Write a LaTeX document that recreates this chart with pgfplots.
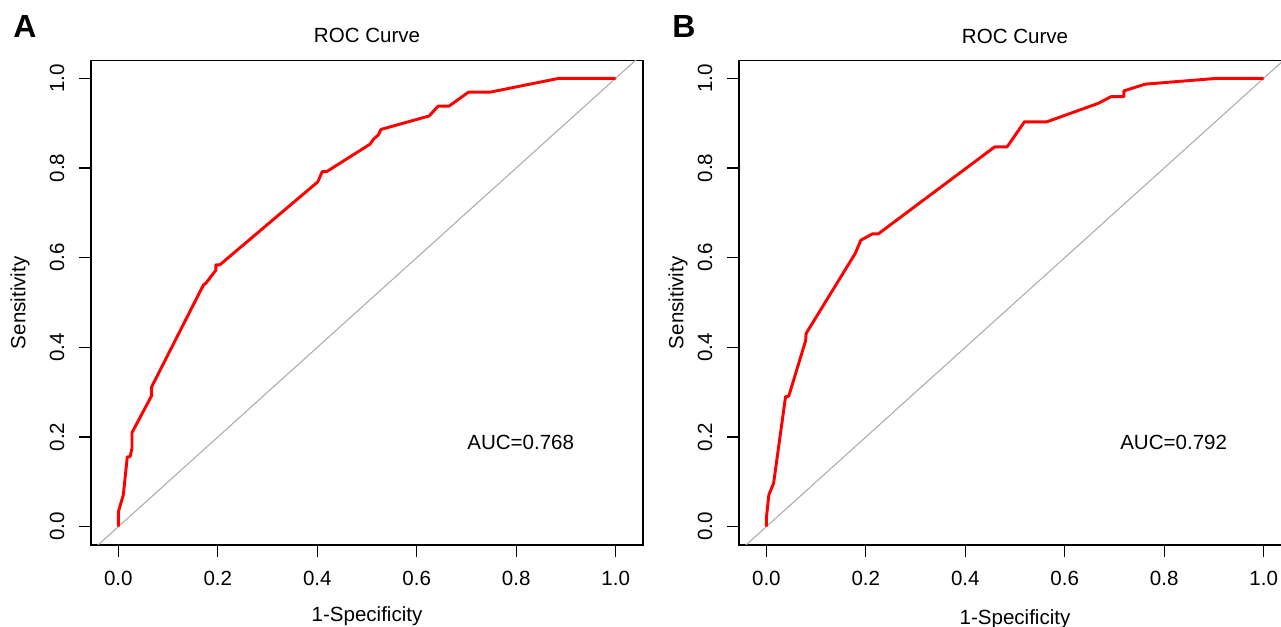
\documentclass[border=0pt]{standalone}
\usepackage{fontspec}
\setmainfont{Liberation Sans}
\usepackage{pgfplots}
\usepackage{pgfplotstable}
\pgfplotsset{compat=1.18}
\definecolor{diaggray}{RGB}{172,172,172}

\pgfplotstableread{
x y
0 0
0 0.033
0.010 0.071
0.018 0.156
0.0235 0.156
0.0275 0.175
0.0275 0.210
0.064 0.286
0.067 0.292
0.067 0.312
0.171 0.539
0.176 0.543
0.196 0.572
0.196 0.584
0.204 0.584
0.401 0.769
0.410 0.792
0.419 0.792
0.506 0.853
0.513 0.864
0.523 0.874
0.528 0.886
0.625 0.916
0.643 0.938
0.665 0.938
0.704 0.969
0.747 0.969
0.886 1.0
1.0 1.0
}\rocA

\pgfplotstableread{
x y
0 0
0 0.019
0.005 0.071
0.0146 0.097
0.0386 0.290
0.045 0.291
0.079 0.415
0.080 0.431
0.179 0.610
0.190 0.639
0.213 0.653
0.225 0.653
0.459 0.847
0.484 0.847
0.519 0.903
0.564 0.903
0.667 0.944
0.693 0.959
0.719 0.959
0.719 0.972
0.762 0.987
0.907 1.0
1.0 1.0
}\rocB

\pgfplotsset{
  rocaxis/.style={
    scale only axis,
    width=414pt, height=363.225pt,
    xmin=-0.055, xmax=1.055, ymin=-0.0408, ymax=1.0393,
    xtick={0,0.2,0.4,0.6,0.8,1.0},
    xticklabels={0.0,0.2,0.4,0.6,0.8,1.0},
    ytick={0,0.2,0.4,0.6,0.8,1.0},
    yticklabels={0.0,0.2,0.4,0.6,0.8,1.0},
    tick align=outside,
    xtick pos=left, ytick pos=left,
    major tick length=9pt,
    tick style={black, line width=0.9pt},
    axis line style={black, line width=1pt},
    font=\fontsize{15.4}{18}\selectfont,
    xticklabel style={anchor=center, yshift=-15.75pt},
    yticklabel style={anchor=center, xshift=-16.5pt, rotate=90},
    title={ROC Curve},
    title style={at={(axis description cs:0.5,1.0366)}, anchor=center},
    xlabel={1-Specificity},
    xlabel style={at={(axis description cs:0.5,-0.1466)}, anchor=center},
    ylabel={Sensitivity},
    ylabel style={at={(axis description cs:-0.1286,0.5)}, anchor=center},
    clip=true,
  },
  diag/.style={diaggray, line width=0.8pt},
  roc/.style={red, line width=2.2pt, line join=round},
}

\begin{document}
\begin{tikzpicture}[x=0.75pt,y=0.75pt]
\path[use as bounding box] (0,0) rectangle (1281,627);
\clip (0,0) rectangle (1281,627);

\node[font=\fontsize{24}{28}\selectfont\bfseries] at (25,600) {A};
\node[font=\fontsize{24}{28}\selectfont\bfseries] at (684,600) {B};

\begin{axis}[rocaxis, at={(68.25pt,61.5pt)}, anchor=south west]
  \addplot[diag] coordinates {(-0.2,-0.2) (1.2,1.2)};
  \addplot[roc] table[x=x,y=y] {\rocA};
  \node[anchor=center] at (axis cs:0.809,0.189) {AUC=0.768};
\end{axis}

\begin{axis}[rocaxis, at={(554.25pt,61.5pt)}, anchor=south west,
  title style={at={(axis description cs:0.5,1.0345)}},
  xlabel style={at={(axis description cs:0.5,-0.1528)}},
  ylabel style={at={(axis description cs:-0.1105,0.5)}}]
  \addplot[diag] coordinates {(-0.2,-0.2) (1.2,1.2)};
  \addplot[roc] table[x=x,y=y] {\rocB};
  \node[anchor=center] at (axis cs:0.819,0.189) {AUC=0.792};
\end{axis}
\end{tikzpicture}
\end{document}
